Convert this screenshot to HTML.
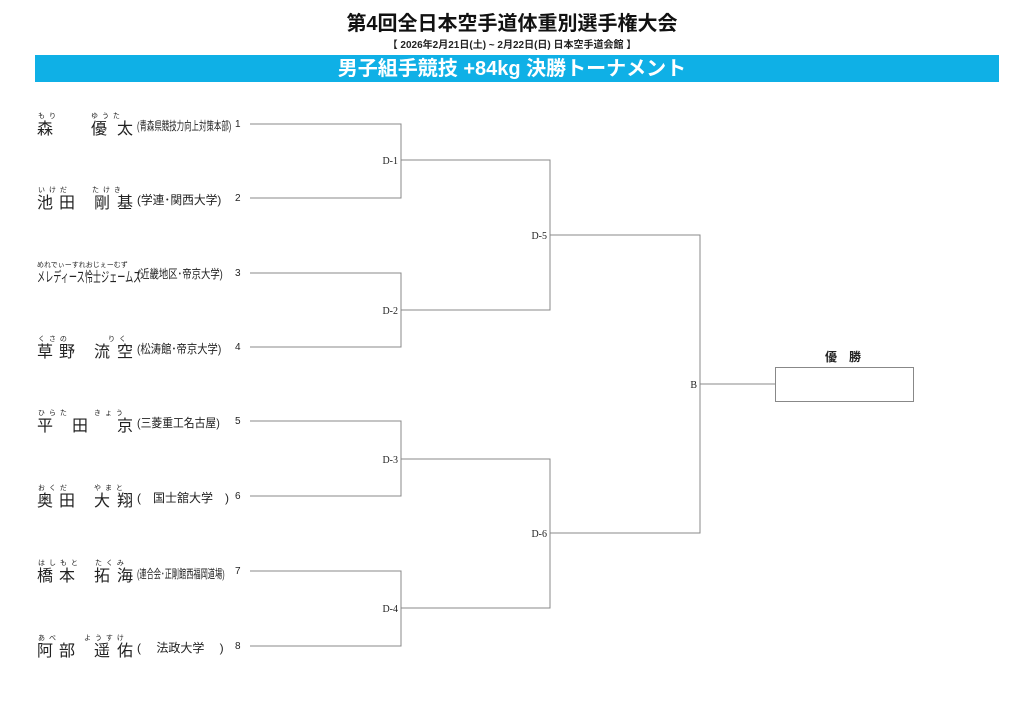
<!DOCTYPE html>
<html><head><meta charset="utf-8"><style>
body{margin:0;width:1024px;height:724px;background:#fff;position:relative;overflow:hidden;font-family:"Liberation Sans","Noto Sans CJK JP",sans-serif;color:#222}
.a{position:absolute;white-space:nowrap}
.c{position:absolute;font-size:16px;line-height:16px;margin-top:4px}
.fu{position:absolute;font-size:7px;line-height:7px;margin-top:3px;letter-spacing:1px}
.af{position:absolute;font-size:12px;line-height:14px;transform-origin:0 0;white-space:nowrap;margin-top:1px}
.no{position:absolute;font-size:10px;left:235px}
</style></head><body>
<div class="a" style="left:0;width:1024px;top:12px;text-align:center;font-size:20px;line-height:24px;font-weight:bold;color:#111">第4回全日本空手道体重別選手権大会</div>
<div class="a" style="left:0;width:1024px;top:40px;text-align:center;font-size:10px;line-height:12px;font-weight:bold">【 2026年2月21日(土) ~ 2月22日(日)  日本空手道会館 】</div>
<div class="a" style="left:35px;width:964px;top:55px;height:27px;background:#0fb0e6"></div>
<div class="a" style="left:0;width:1024px;top:56px;line-height:27px;text-align:center;font-size:20px;font-weight:bold;color:#fff">男子組手競技 +84kg 決勝トーナメント</div>

<svg class="a" style="left:0;top:0" width="1024" height="724">
<g stroke="#888" stroke-width="1" fill="none">
<polyline points="250,124 401,124 401,198 250,198"/>
<polyline points="250,273 401,273 401,347 250,347"/>
<polyline points="250,421 401,421 401,496 250,496"/>
<polyline points="250,571 401,571 401,646 250,646"/>
<polyline points="401,160 550,160 550,310 401,310"/>
<polyline points="401,459 550,459 550,608 401,608"/>
<polyline points="550,235 700,235 700,533 550,533"/>
<line x1="700" y1="384" x2="775" y2="384"/>
<rect x="775.5" y="367.5" width="138" height="34"/>
</g>
<g font-family="Liberation Serif,serif" font-size="10" fill="#222" text-anchor="end">
<text x="398" y="164">D-1</text><text x="398" y="314">D-2</text>
<text x="398" y="463">D-3</text><text x="398" y="612">D-4</text>
<text x="547" y="239">D-5</text><text x="547" y="537">D-6</text>
<text x="697" y="388">B</text>
</g>
</svg>
<div class="a" style="left:825px;top:348px;font-size:12px;font-weight:bold">優　勝</div>

<!-- 1 -->
<div class="fu" style="left:38px;top:110px">も り</div><div class="fu" style="left:91px;top:110px">ゆ う た</div>
<div class="c" style="left:37px;top:118px">森</div><div class="c" style="left:91px;top:118px">優</div><div class="c" style="left:117px;top:118px">太</div>
<div class="af" style="left:137px;top:118px;transform:scaleX(0.62)">(青森県競技力向上対策本部)</div>
<!-- 2 -->
<div class="fu" style="left:38px;top:184px">い け だ</div><div class="fu" style="left:92px;top:184px">た け き</div>
<div class="c" style="left:37px;top:192px">池</div><div class="c" style="left:59px;top:192px">田</div><div class="c" style="left:94px;top:192px">剛</div><div class="c" style="left:117px;top:192px">基</div>
<div class="af" style="left:137px;top:192px;transform:scaleX(0.98)">(学連･関西大学)</div>
<!-- 3 -->
<div class="fu" style="left:37px;top:259px;letter-spacing:0">めれでぃーすれおじぇーむず</div>
<div class="af" style="left:37px;top:266px;font-size:14px;line-height:16px;transform:scaleX(0.58);margin-top:3px">メレディース怜士ジェームズ</div>
<div class="af" style="left:137px;top:266px;transform:scaleX(0.78)">(近畿地区･帝京大学)</div>
<!-- 4 -->
<div class="fu" style="left:38px;top:333px">く さ の</div><div class="fu" style="left:108px;top:333px">り く</div>
<div class="c" style="left:37px;top:341px">草</div><div class="c" style="left:59px;top:341px">野</div><div class="c" style="left:94px;top:341px">流</div><div class="c" style="left:117px;top:341px">空</div>
<div class="af" style="left:137px;top:341px;transform:scaleX(0.86)">(松涛館･帝京大学)</div>
<!-- 5 -->
<div class="fu" style="left:38px;top:407px">ひ ら た</div><div class="fu" style="left:94px;top:407px">き ょ う</div>
<div class="c" style="left:37px;top:415px">平</div><div class="c" style="left:72px;top:415px">田</div><div class="c" style="left:117px;top:415px">京</div>
<div class="af" style="left:137px;top:415px;transform:scaleX(0.9)">(三菱重工名古屋)</div>
<!-- 6 -->
<div class="fu" style="left:38px;top:482px">お く だ</div><div class="fu" style="left:94px;top:482px">や ま と</div>
<div class="c" style="left:37px;top:490px">奥</div><div class="c" style="left:59px;top:490px">田</div><div class="c" style="left:94px;top:490px">大</div><div class="c" style="left:117px;top:490px">翔</div>
<div class="af" style="left:137px;top:490px">(　国士舘大学　)</div>
<!-- 7 -->
<div class="fu" style="left:38px;top:557px">は し も と</div><div class="fu" style="left:95px;top:557px">た く み</div>
<div class="c" style="left:37px;top:565px">橋</div><div class="c" style="left:59px;top:565px">本</div><div class="c" style="left:94px;top:565px">拓</div><div class="c" style="left:117px;top:565px">海</div>
<div class="af" style="left:137px;top:566px;transform:scaleX(0.6)">(連合会･正剛館西福岡道場)</div>
<!-- 8 -->
<div class="fu" style="left:38px;top:632px">あ べ</div><div class="fu" style="left:84px;top:632px">よ う す け</div>
<div class="c" style="left:37px;top:640px">阿</div><div class="c" style="left:59px;top:640px">部</div><div class="c" style="left:94px;top:640px">遥</div><div class="c" style="left:117px;top:640px">佑</div>
<div class="af" style="left:137px;top:640px">(　 法政大学　 )</div>

<div class="no" style="top:119px">1</div>
<div class="no" style="top:193px">2</div>
<div class="no" style="top:268px">3</div>
<div class="no" style="top:342px">4</div>
<div class="no" style="top:416px">5</div>
<div class="no" style="top:491px">6</div>
<div class="no" style="top:566px">7</div>
<div class="no" style="top:641px">8</div>
</body></html>
